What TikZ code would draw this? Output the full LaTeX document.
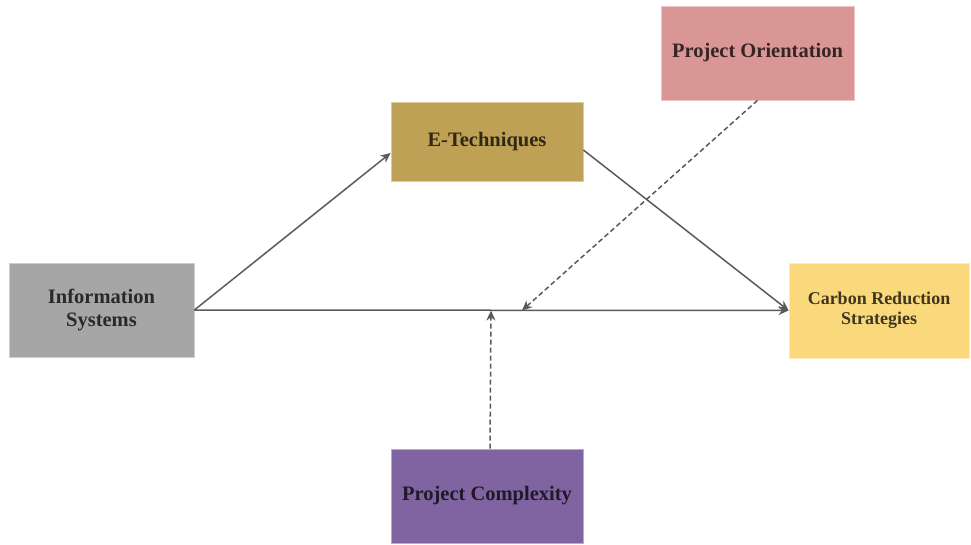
\documentclass[tikz,border=0pt]{standalone}
\usepackage{fontspec}
\setmainfont{Liberation Serif}
\usetikzlibrary{arrows.meta}

\definecolor{infogray}{HTML}{A6A6A6}
\definecolor{techgold}{HTML}{BFA155}
\definecolor{orientred}{HTML}{D99694}
\definecolor{carbonyel}{HTML}{FAD87C}
\definecolor{complexpur}{HTML}{8064A2}
\definecolor{edgegray}{HTML}{5A5A5A}

\tikzset{
	box/.style={draw=#1!55!white, fill=#1, line width=0.8pt, align=center,
		font=\bfseries\fontsize{20.5}{23}\selectfont, text=black, text opacity=0.75,
		inner sep=0pt},
	link/.style={draw=edgegray, line width=1.5pt, -{Stealth[length=10pt,width=9pt]}},
	mod/.style={link, dashed, dash pattern=on 5pt off 3pt},
}

\begin{document}
\begin{tikzpicture}[x=1pt,y=-1pt]
\useasboundingbox (0,0) rectangle (971,545);

\node[box=infogray, minimum width=185pt, minimum height=94pt] (i) at(101.5,310) {Information\\Systems};
\node[box=techgold, minimum width=192pt, minimum height=79pt] (e) at(487,141.5) {E-Techniques};
\node[box=orientred, minimum width=193pt, minimum height=94pt] (o) at(757.5,53) {Project Orientation};
\node[box=carbonyel, minimum width=180pt, minimum height=95pt,
	font=\bfseries\fontsize{18}{20}\selectfont] (c) at(879,310.5) {Carbon Reduction\\Strategies};
\node[box=complexpur, minimum width=192pt, minimum height=94pt] (p) at(487,496) {Project Complexity};

% points where the dashed arrows meet the direct path
\coordinate (m1) at(522,310.5);
\coordinate (m2) at(491,310.5);

\draw[link] (i.east) -- ([yshift=-11.5pt]e.west);
\draw[link] ([yshift=-8.5pt]e.east) -- (c.west);
\draw[link] (i.east) -- (c.west);

\draw[mod] (o.south) -- (m1);
\draw[mod] ([xshift=3pt]p.north) -- (m2);
\end{tikzpicture}
\end{document}
